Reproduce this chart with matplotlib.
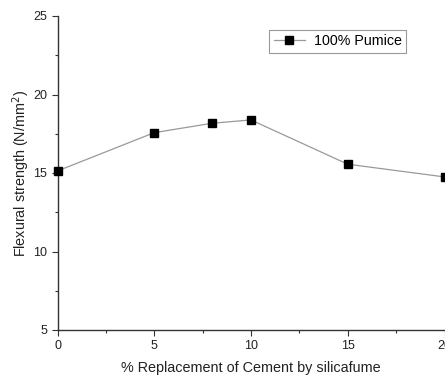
import matplotlib
matplotlib.use("Agg")
import matplotlib.pyplot as plt
from matplotlib.ticker import MultipleLocator

plt.rcParams['font.family'] = ['Liberation Sans', 'DejaVu Sans']

replacement = [0, 5, 8, 10, 15, 20]
strength = [15.13, 17.57, 18.17, 18.38, 15.56, 14.75]

fig = plt.figure(figsize=(4.45, 3.76), dpi=100)
ax = fig.add_axes([57.5 / 445, 1 - 330 / 376, (444.5 - 57.5) / 445, (330 - 16) / 376])

ax.plot(replacement, strength, color='#999999', lw=0.9, marker='s', ms=6,
        mfc='black', mec='black', label='100% Pumice', clip_on=False, zorder=3)

ax.set_xlim(0, 20)
ax.set_ylim(5, 25)
ax.xaxis.set_major_locator(MultipleLocator(5))
ax.xaxis.set_minor_locator(MultipleLocator(2.5))
ax.yaxis.set_major_locator(MultipleLocator(5))
ax.yaxis.set_minor_locator(MultipleLocator(2.5))
ax.tick_params(which='both', direction='out', color='#333333', labelsize=9,
               labelcolor='#222222')
ax.tick_params(which='major', length=4, width=0.8)
ax.tick_params(which='minor', length=2.5, width=0.8)
for s in ['top', 'right']:
    ax.spines[s].set_visible(False)
for s in ['left', 'bottom']:
    ax.spines[s].set_color('#333333')
    ax.spines[s].set_linewidth(1.0)

ax.set_xlabel('% Replacement of Cement by silicafume', fontsize=10.4,
              color='#222222', labelpad=6)
ax.set_ylabel('Flexural strength (N/mm$^2$)', fontsize=10.4, color='#222222',
              labelpad=0.5)

leg = ax.legend(loc='upper right', bbox_to_anchor=(0.9005, 0.955), fontsize=10.3,
                fancybox=False, framealpha=1, edgecolor='#999999',
                handlelength=2.2, handletextpad=0.6, borderpad=0.3,
                borderaxespad=0)
leg.get_frame().set_linewidth(0.8)

fig.savefig('out.png', dpi=100)
